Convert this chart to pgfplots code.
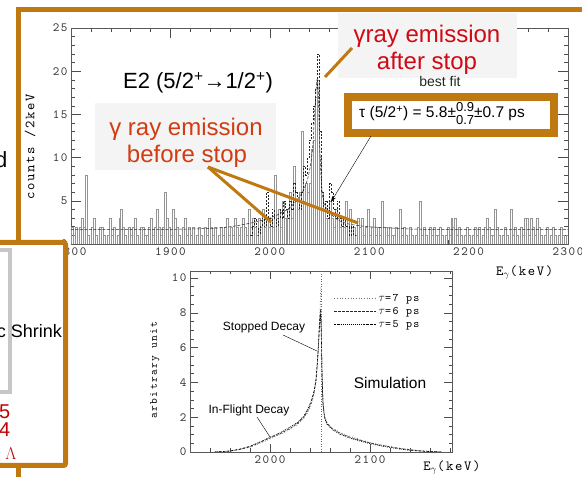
\documentclass[border=0pt]{standalone}
\usepackage{pgfplots}
\pgfplotsset{compat=1.18}
\usetikzlibrary{arrows.meta}
\usepackage{fontspec}
\setmainfont{Liberation Sans}
\newfontfamily\tfam{lmmono10-regular.otf}[LetterSpace=12]
\definecolor{orng}{HTML}{C07810}
\definecolor{redA}{HTML}{D00A14}
\definecolor{redB}{HTML}{D23C12}
\definecolor{boxgray}{HTML}{F4F4F4}
\definecolor{lred}{HTML}{C00000}
\begin{document}
\begin{tikzpicture}
\useasboundingbox (0pt,0pt) rectangle (582pt,477pt);
\fill[white] (0pt,0pt) rectangle (582pt,477pt);

\pgfplotsset{
  every axis/.append style={
    axis line style={black!65, line width=0.5pt},
    every tick/.style={black!70, line width=0.5pt},
    tick align=inside,
    /pgf/number format/assume math mode=true,
    /pgf/number format/1000 sep={},
    ticklabel style={font=\tfam\fontsize{12.5}{12.5}\selectfont, text=black!80},
  }
}

% ---------------- main spectrum ----------------
\begin{axis}[
  at={(71pt,233pt)}, anchor=south west, scale only axis,
  width=497pt, height=216pt,
  xmin=1800, xmax=2300, ymin=0, ymax=25,
  xtick={1800,1900,...,2300}, minor xtick={1820,1840,...,2280},
  ytick={0,5,...,25}, minor ytick={1,2,...,24},
  major tick length=10pt, minor tick length=4pt,
  xlabel={\tfam\fontsize{14}{14}\selectfont E$_\gamma$(keV)},
  xlabel style={at={(0.913,-0.134)}, anchor=center},
  ylabel={\tfam\fontsize{14}{14}\selectfont counts /2keV},
  ylabel style={at={(-0.0825,0.449)}, anchor=center},
]
\addplot[ybar, bar width=2, draw=black!42, fill=none, line width=0.4pt] coordinates {
(1801,2)(1803,1)(1805,2)(1807,0)(1809,2)(1811,3)(1813,2)(1815,8)(1817,1)(1819,0)
(1821,2)(1823,3)(1825,1)(1827,0)(1829,2)(1831,2)(1833,1)(1835,0)(1837,1)(1839,3)
(1841,1)(1843,2)(1845,0)(1847,1)(1849,3)(1851,4)(1853,2)(1855,1)(1857,0)(1859,2)
(1861,1)(1863,2)(1865,3)(1867,1)(1869,0)(1871,2)(1873,2)(1875,1)(1877,1)(1879,2)
(1881,3)(1883,1)(1885,2)(1887,4)(1889,2)(1891,1)(1893,2)(1895,6)(1897,3)(1899,2)
(1901,1)(1903,4)(1905,3)(1907,2)(1909,1)(1911,0)(1913,2)(1915,3)(1917,1)(1919,2)
(1921,1)(1923,2)(1925,0)(1927,1)(1929,2)(1931,1)(1933,0)(1935,2)(1937,1)(1939,3)
(1941,2)(1943,1)(1945,2)(1947,0)(1949,1)(1951,2)(1953,1)(1955,2)(1957,3)(1959,1)
(1961,2)(1963,1)(1965,3)(1967,2)(1969,1)(1971,2)(1973,3)(1975,2)(1977,1)(1979,4)
(1981,2)(1983,3)(1985,2)(1987,1)(1989,3)(1991,2)(1993,4)(1995,2)(1997,3)(1999,2)
(2001,3)(2003,2)(2005,8)(2007,3)(2009,4)(2011,2)(2013,5)(2015,3)(2017,2)(2019,4)
(2021,6)(2023,3)(2025,9)(2027,5)(2029,4)(2031,6)(2033,13)(2035,5)(2037,7)(2039,6)
(2041,7)(2043,11)(2045,12)(2047,17)(2049,19)(2051,10)(2053,6)(2055,4)(2057,3)(2059,3)
(2061,5)(2063,3)(2065,2)(2067,4)(2069,3)(2071,2)(2073,3)(2075,2)(2077,5)(2079,3)
(2081,4)(2083,2)(2085,2)(2087,1)(2089,3)(2091,2)(2093,3)(2095,1)(2097,2)(2099,4)
(2101,1)(2103,2)(2105,3)(2107,1)(2109,2)(2111,1)(2113,5)(2115,0)(2117,2)(2119,1)
(2121,2)(2123,1)(2125,1)(2127,2)(2129,0)(2131,4)(2133,1)(2135,2)(2137,1)(2139,0)
(2141,2)(2143,1)(2145,0)(2147,1)(2149,2)(2151,5)(2153,1)(2155,2)(2157,1)(2159,0)
(2161,2)(2163,1)(2165,2)(2167,1)(2169,1)(2171,2)(2173,1)(2175,0)(2177,1)(2179,2)
(2181,1)(2183,3)(2185,2)(2187,3)(2189,1)(2191,2)(2193,1)(2195,0)(2197,1)(2199,2)
(2201,1)(2203,0)(2205,1)(2207,2)(2209,1)(2211,2)(2213,0)(2215,1)(2217,2)(2219,3)
(2221,2)(2223,1)(2225,1)(2227,4)(2229,2)(2231,1)(2233,0)(2235,1)(2237,2)(2239,1)
(2241,0)(2243,4)(2245,1)(2247,2)(2249,1)(2251,0)(2253,2)(2255,1)(2257,3)(2259,3)
(2261,1)(2263,3)(2265,2)(2267,1)(2269,3)(2271,2)(2273,1)(2275,0)(2277,1)(2279,2)
(2281,0)(2283,1)(2285,2)(2287,1)(2289,0)(2291,1)(2293,2)(2295,1)(2297,0)(2299,1)
};
\addplot[const plot, black!85, line width=0.45pt, dash pattern=on 2pt off 1.5pt] coordinates {
(1980,1)(1982,2)(1984,3)(1986,2)(1988,1)(1990,2)(1992,3)(1994,2)(1996,6)(1998,3)
(2000,2)(2002,4)(2004,3)(2006,2)(2008,3)(2010,4)(2012,3)(2014,5)(2016,4)(2018,3)
(2020,5)(2022,4)(2024,7)(2026,6)(2028,5)(2030,4)(2032,6)(2034,9)(2036,8)(2038,10)
(2040,12)(2042,14)(2044,16)(2046,18)(2048,22)(2050,13)(2052,6)(2054,4)(2056,5)(2058,3)
(2060,7)(2062,6)(2064,4)(2066,3)(2068,5)(2070,3)(2072,2)(2074,3)(2076,2)(2078,2)
(2080,1)(2082,2)(2084,1)(2086,1)
};
\addplot[smooth, black!85, line width=0.5pt, dash pattern=on 3pt off 1.5pt] coordinates {
(1800,1.7)(1850,1.7)(1900,1.7)(1940,1.8)(1960,2.0)(1980,2.4)(2000,3.0)(2010,3.5)
(2020,4.2)(2030,5.5)(2036,6.8)(2040,8.5)(2043,11)(2045,15)(2047,18.5)(2048,19)
(2049,17)(2050,12)(2052,7)(2054,5)(2058,4)(2064,3.2)(2070,2.7)(2080,2.3)(2100,2.0)
(2130,1.8)(2160,1.7)(2300,1.7)
};
\end{axis}

% ---------------- simulation inset ----------------
\begin{axis}[
  at={(190pt,25pt)}, anchor=south west, scale only axis,
  width=262pt, height=181pt,
  xmin=1920, xmax=2182, ymin=0, ymax=10.4,
  xtick={2000,2100}, minor xtick={1940,1960,...,2180},
  ytick={0,2,...,10}, minor ytick={0.5,1,...,10},
  major tick length=8pt, minor tick length=3.5pt,
  xlabel={\tfam\fontsize{14}{14}\selectfont E$_\gamma$(keV)},
  xlabel style={at={(1.0,-0.088)}, anchor=center},
  ylabel={\tfam\fontsize{11}{11}\selectfont arbitrary unit},
  ylabel style={at={(-0.134,0.453)}, anchor=center},
  legend style={at={(0.545,0.89)}, anchor=north west, draw=none, fill=none,
    font=\tfam\fontsize{11.5}{11.5}\selectfont, row sep=0.5pt, inner sep=1pt},
  legend cell align=left,
  legend image code/.code={\draw[#1] (0pt,0pt) -- (42pt,0pt);},
]
\addplot[black!55, line width=0.7pt, dotted] coordinates {
(1945,0)(1960,0.05)(1970,0.14)(1980,0.28)(1990,0.5)(2000,0.75)(2010,1.0)(2020,1.3)
(2028,1.6)(2034,1.95)(2038,2.3)(2041,2.7)(2044,3.3)(2046,4.0)(2047.5,5.0)(2048.5,6.0)
(2049.5,7.3)(2050.3,8.6)(2050.8,9.5)(2051.3,8.0)(2052,5.0)(2053,3.0)(2054.5,2.1)
(2057,1.7)(2062,1.4)(2070,1.12)(2080,0.9)(2090,0.72)(2100,0.56)(2110,0.43)(2120,0.32)
(2130,0.22)(2140,0.15)(2150,0.09)(2160,0.04)(2172,0)
};
\addlegendentry{$\tau$=7 ps}
\addplot[black!85, line width=0.55pt, dash pattern=on 2.5pt off 1.5pt] coordinates {
(1945,0)(1960,0.05)(1970,0.15)(1980,0.3)(1990,0.55)(2000,0.8)(2010,1.05)(2020,1.35)
(2028,1.65)(2034,2.0)(2038,2.4)(2041,2.8)(2044,3.4)(2046,4.1)(2047.5,5.2)(2048.5,6.3)
(2049.5,7.6)(2050.5,8.2)(2051.2,7.2)(2052,4.6)(2053,2.8)(2054.5,2.0)(2057,1.65)
(2062,1.35)(2070,1.08)(2080,0.85)(2090,0.68)(2100,0.52)(2110,0.4)(2120,0.3)(2130,0.2)
(2140,0.13)(2150,0.07)(2160,0.03)(2172,0)
};
\addlegendentry{$\tau$=6 ps}
\addplot[black, line width=0.65pt, dash pattern=on 1.5pt off 1pt on 0.6pt off 1pt] coordinates {
(1945,0)(1960,0.06)(1970,0.17)(1980,0.33)(1990,0.58)(2000,0.85)(2010,1.1)(2020,1.42)
(2028,1.72)(2034,2.08)(2038,2.5)(2041,2.9)(2044,3.5)(2046,4.2)(2047.5,5.3)(2048.5,6.1)
(2049.5,7.2)(2050.5,7.9)(2051.2,7.0)(2052,4.4)(2053,2.7)(2054.5,1.95)(2057,1.6)
(2062,1.3)(2070,1.02)(2080,0.8)(2090,0.63)(2100,0.48)(2110,0.36)(2120,0.26)(2130,0.17)
(2140,0.1)(2150,0.05)(2160,0.02)(2172,0)
};
\addlegendentry{$\tau$=5 ps}
\addplot[black!60, line width=0.5pt, dotted, forget plot] coordinates {(2051,0)(2051,10.4)};
\end{axis}

% ---------------- overlays (pixel coordinates, y down) ----------------
\begin{scope}[x=1pt, y=-1pt, shift={(0pt,477pt)}]
  % orange frame (top and left)
  \draw[orng, line width=5pt] (15.5,10) -- (582,10);
  \draw[orng, line width=5pt] (18,7.5) -- (18,477);
  % "before stop" callout
  \fill[boxgray] (95,103) rectangle (276,170);
  \node[redB, anchor=base, inner sep=0, font=\fontsize{24}{27}\selectfont] at (186,136) {γ ray emission};
  \node[redB, anchor=base, inner sep=0, font=\fontsize{24}{27}\selectfont] at (187,163) {before stop};
  % "after stop" callout
  \fill[boxgray] (338,13) rectangle (517,78);
  \node[redA, anchor=base, inner sep=0, font=\fontsize{24}{27}\selectfont] at (427,43) {γray emission};
  \node[redA, anchor=base, inner sep=0, font=\fontsize{24}{27}\selectfont] at (427,70) {after stop};
  % orange pointer lines
  \draw[orng, line width=3pt] (208,167) -- (271,222);
  \draw[orng, line width=3pt] (208,167) -- (358,223);
  \draw[orng, line width=3pt] (352,48) -- (325,77);
  % E2 label
  \node[anchor=base, inner sep=0, font=\fontsize{22}{22}\selectfont] at (198,89) {E2 (5/2\textsuperscript{+}→1/2\textsuperscript{+})};
  % best fit
  \node[anchor=base, inner sep=0, font=\fontsize{14}{14}\selectfont, black!85] at (440,87) {best fit};
  % tau box
  \draw[orng, line width=8pt, fill=white] (348,97) rectangle (554,133);
  \node[anchor=base, inner sep=0, font=\fontsize{15.5}{15.5}\selectfont] at (442,118)
    {τ (5/2\textsuperscript{+}) = 5.8±\makebox[0pt][l]{\raisebox{6.5pt}{\fontsize{13}{13}\selectfont 0.9}}\raisebox{-7pt}{\fontsize{13}{13}\selectfont 0.7}±0.7 ps};
  \draw[black, line width=0.4pt, -{Stealth[length=6pt,width=4pt]}] (371,136) -- (331,202);
  % inset annotations
  \node[anchor=base, inner sep=0, font=\fontsize{12}{12}\selectfont] at (264,331) {Stopped Decay};
  \draw[black, line width=0.4pt] (283,335) -- (317,351);
  \node[anchor=base, inner sep=0, font=\fontsize{12}{12}\selectfont] at (249,414) {In-Flight Decay};
  \draw[black, line width=0.4pt] (257,417) -- (270,437);
  \node[anchor=base, inner sep=0, font=\fontsize{15.5}{15.5}\selectfont] at (390,389) {Simulation};
  % left fragment
  \node[anchor=base east, inner sep=0, font=\fontsize{22}{22}\selectfont] at (7.5,168) {d};
  % lower-left box
  \draw[orng, line width=5pt, fill=white, rounded corners=2pt] (-10,242.5) rectangle (65.5,465.5);
  \draw[black!22, line width=4pt] (-10,250.5) rectangle (10,392.5);
  \node[anchor=base east, inner sep=0, font=\fontsize{18}{18}\selectfont] at (62,338) {c Shrink};
  \node[anchor=base east, inner sep=0, lred, font=\fontsize{20}{20}\selectfont] at (10.5,419) {5};
  \node[anchor=base east, inner sep=0, lred, font=\fontsize{20}{20}\selectfont] at (10.5,437) {4};
  \node[anchor=base, inner sep=0, lred, font=\fontsize{19}{19}\selectfont] at (11,460) {$\Lambda$};
\end{scope}
\end{tikzpicture}
\end{document}
